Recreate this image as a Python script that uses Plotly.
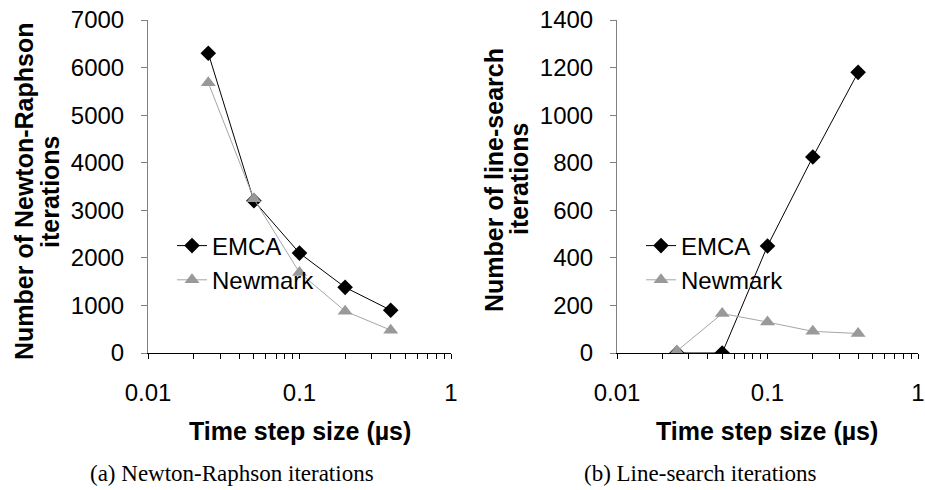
import plotly.graph_objects as go

# Data
time_steps = [0.025, 0.05, 0.1, 0.2, 0.4]
nr_emca = [6300, 3200, 2100, 1380, 900]
nr_newmark = [5680, 3240, 1690, 880, 480]
ls_emca = [0, 0, 450, 824, 1180]
ls_newmark = [8, 166, 130, 91, 82]

x_ticks = [0.01, 0.1, 1]
x_tick_text = ["0.01", "0.1", "1"]
x_minor_ticks = [0.02, 0.03, 0.04, 0.05, 0.06, 0.07, 0.08, 0.09,
                 0.2, 0.3, 0.4, 0.5, 0.6, 0.7, 0.8, 0.9]

W, H = 925, 490
FONT = "Liberation Sans, Arial, sans-serif"
BLACK = "#000000"
GRAY = "#999999"
GRAY_LINE = "#a6a6a6"

def px(x):
    return x / W

def py(y):
    return 1 - y / H

fig = go.Figure()

def add_series(xa, ya, emca, newmark, legend):
    fig.add_trace(go.Scatter(
        x=time_steps, y=emca, name="EMCA", mode="lines+markers",
        xaxis=xa, yaxis=ya, legend=legend,
        line=dict(color=BLACK, width=1),
        marker=dict(symbol="diamond", size=12, color=BLACK),
    ))
    fig.add_trace(go.Scatter(
        x=time_steps, y=newmark, name="Newmark", mode="lines+markers",
        xaxis=xa, yaxis=ya, legend=legend,
        line=dict(color=GRAY_LINE, width=1),
        marker=dict(symbol="triangle-up", size=13, color=GRAY),
    ))

add_series("x", "y", nr_emca, nr_newmark, "legend")
add_series("x2", "y2", ls_emca, ls_newmark, "legend2")

ydom = [py(353), py(20)]

xcommon = dict(
    type="log", range=[-2, 0], tickvals=x_ticks, ticktext=x_tick_text,
    showline=True, linecolor=BLACK, linewidth=1, ticks="outside", ticklen=5,
    tickcolor=BLACK, showgrid=False, zeroline=False, automargin=False,
    ticklabelstandoff=13,
    tickfont=dict(family=FONT, size=24, color=BLACK),
    minor=dict(ticks="outside", ticklen=5, tickcolor=BLACK, showgrid=False,
               tickvals=x_minor_ticks),
)
ycommon = dict(
    showline=True, linecolor="#808080", linewidth=1, ticks="outside", ticklen=6,
    tickcolor="#808080", showgrid=False, zeroline=False, automargin=False,
    ticklabelstandoff=12,
    tickfont=dict(family=FONT, size=24, color=BLACK),
)

legend_font = dict(family=FONT, size=24, color=BLACK)

fig.update_layout(
    template="none",
    width=W, height=H,
    margin=dict(l=0, r=0, t=0, b=0, autoexpand=False),
    paper_bgcolor="white", plot_bgcolor="white",
    xaxis=dict(domain=[px(148), px(451)], anchor="y", **xcommon),
    yaxis=dict(domain=ydom, anchor="x", range=[0, 7000], dtick=1000, **ycommon),
    xaxis2=dict(domain=[px(617), px(918)], anchor="y2", **xcommon),
    yaxis2=dict(domain=ydom, anchor="x2", range=[0, 1400], dtick=200, **ycommon),
    legend=dict(x=px(172), y=py(263), xanchor="left", yanchor="middle",
                bgcolor="rgba(0,0,0,0)", font=legend_font,
                itemwidth=30, tracegroupgap=0),
    legend2=dict(x=px(641), y=py(263), xanchor="left", yanchor="middle",
                 bgcolor="rgba(0,0,0,0)", font=legend_font,
                 itemwidth=30, tracegroupgap=0),
    showlegend=True,
)

title_font = dict(family=FONT, size=25, color=BLACK)
annotations = [
    dict(text="<b>Number of Newton-Raphson</b>", x=px(24), y=py(191), textangle=-90),
    dict(text="<b>iterations</b>", x=px(50), y=py(192), textangle=-90),
    dict(text="<b>Number of line-search</b>", x=px(494), y=py(180), textangle=-90),
    dict(text="<b>iterations</b>", x=px(519), y=py(179), textangle=-90),
    dict(text="<b>Time step size (µs)</b>", x=px(300), y=py(431)),
    dict(text="<b>Time step size (µs)</b>", x=px(767), y=py(431)),
]
for a in annotations:
    fig.add_annotation(xref="paper", yref="paper", showarrow=False,
                       xanchor="center", yanchor="middle", font=title_font, **a)

cap_font = dict(family="Liberation Serif, serif", size=23, color=BLACK)
fig.add_annotation(text="(a) Newton-Raphson iterations", x=px(232), y=py(473),
                   xref="paper", yref="paper", showarrow=False,
                   xanchor="center", yanchor="middle", font=cap_font)
fig.add_annotation(text="(b) Line-search iterations", x=px(700), y=py(473),
                   xref="paper", yref="paper", showarrow=False,
                   xanchor="center", yanchor="middle", font=cap_font)

fig.write_html("out.html")
